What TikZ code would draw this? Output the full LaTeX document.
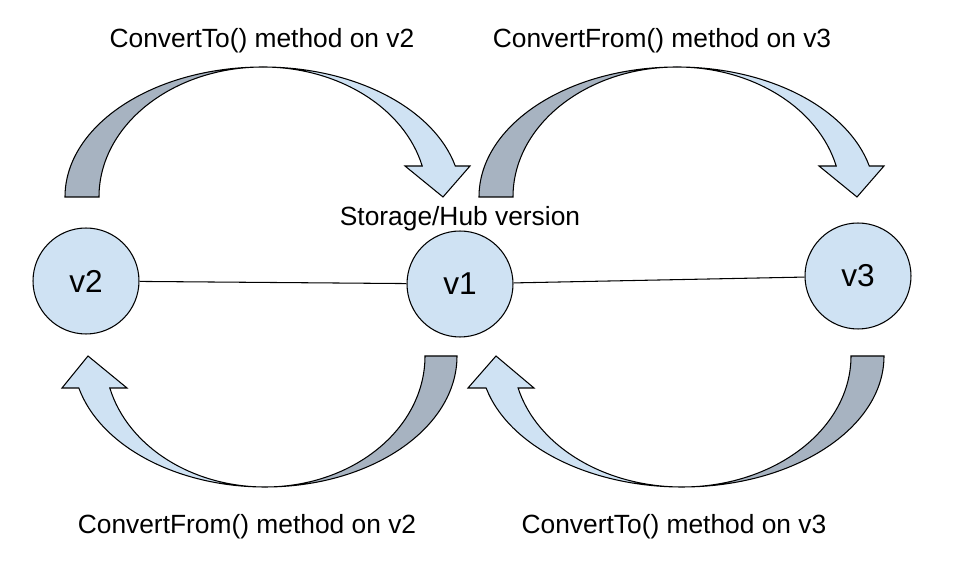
\documentclass[tikz,border=0pt]{standalone}
\usepackage{fontspec}
\setmainfont{Liberation Sans}
\definecolor{hubfill}{HTML}{CFE2F3}
\definecolor{hubshade}{RGB}{167,179,193}

\begin{document}
\begin{tikzpicture}[x=0.02cm, y=-0.02cm,
  version/.style={circle, draw, line width=0.6pt, fill=hubfill,
    minimum size=2.12cm, inner sep=0pt, font=\fontsize{18}{21}\selectfont},
  caption/.style={anchor=base, font=\fontsize{15}{18}\selectfont},
  backside/.style={draw, line width=0.6pt, fill=hubshade},
  frontside/.style={draw, line width=0.6pt, fill=hubfill}]
  \useasboundingbox (0,0) rectangle (954,570);

  % Arrow v2 -> v1 (top left)
  \begin{scope}[shift={(263,197)}]
    \draw[backside] (-198,0) arc[start angle=180, end angle=270, x radius=198, y radius=130]
      arc[start angle=270, end angle=180, x radius=164, y radius=130] -- cycle;
    \draw[frontside] (0,-130) arc[start angle=270, end angle=346.2, x radius=198, y radius=130]
      -- (207,-31) -- (180,0) -- (142,-31) -- (159.2,-31)
      arc[start angle=346.2, end angle=270, x radius=164, y radius=130] -- cycle;
  \end{scope}

  % Arrow v1 -> v3 (top right)
  \begin{scope}[shift={(677,197)}]
    \draw[backside] (-198,0) arc[start angle=180, end angle=270, x radius=198, y radius=130]
      arc[start angle=270, end angle=180, x radius=164, y radius=130] -- cycle;
    \draw[frontside] (0,-130) arc[start angle=270, end angle=346.2, x radius=198, y radius=130]
      -- (207,-31) -- (180,0) -- (142,-31) -- (159.2,-31)
      arc[start angle=346.2, end angle=270, x radius=164, y radius=130] -- cycle;
  \end{scope}

  % Arrow v1 -> v2 (bottom left)
  \begin{scope}[shift={(265,356)}]
    \draw[backside] (192,0) arc[start angle=0, end angle=90, x radius=192, y radius=131]
      arc[start angle=90, end angle=0, x radius=160, y radius=131] -- cycle;
    \draw[frontside] (0,131) arc[start angle=90, end angle=165.86, x radius=192, y radius=131]
      -- (-203,32) -- (-177,0) -- (-138,32) -- (-155.2,32)
      arc[start angle=165.86, end angle=90, x radius=160, y radius=131] -- cycle;
  \end{scope}

  % Arrow v3 -> v1 (bottom right)
  \begin{scope}[shift={(682,356)}]
    \draw[backside] (202,0) arc[start angle=0, end angle=90, x radius=202, y radius=131]
      arc[start angle=90, end angle=0, x radius=169, y radius=131] -- cycle;
    \draw[frontside] (0,131) arc[start angle=90, end angle=165.86, x radius=202, y radius=131]
      -- (-214,32) -- (-186,0) -- (-148,32) -- (-163.9,32)
      arc[start angle=165.86, end angle=90, x radius=169, y radius=131] -- cycle;
  \end{scope}

  % Versions
  \node[version] (v2) at (86,281) {v2};
  \node[version] (v1) at (460,284) {v1};
  \node[version] (v3) at (858,276) {v3};
  \draw[line width=0.6pt] (v2) -- (v1);
  \draw[line width=0.6pt] (v1) -- (v3);

  % Labels
  \node[caption] (toV2) at (262,48) {ConvertTo() method on v2};
  \node[caption] (fromV3) at (662,48) {ConvertFrom() method on v3};
  \node[caption] (hub) at (460,226) {Storage/Hub version};
  \node[caption] (fromV2) at (247,534) {ConvertFrom() method on v2};
  \node[caption] (toV3) at (674,534) {ConvertTo() method on v3};
\end{tikzpicture}
\end{document}
